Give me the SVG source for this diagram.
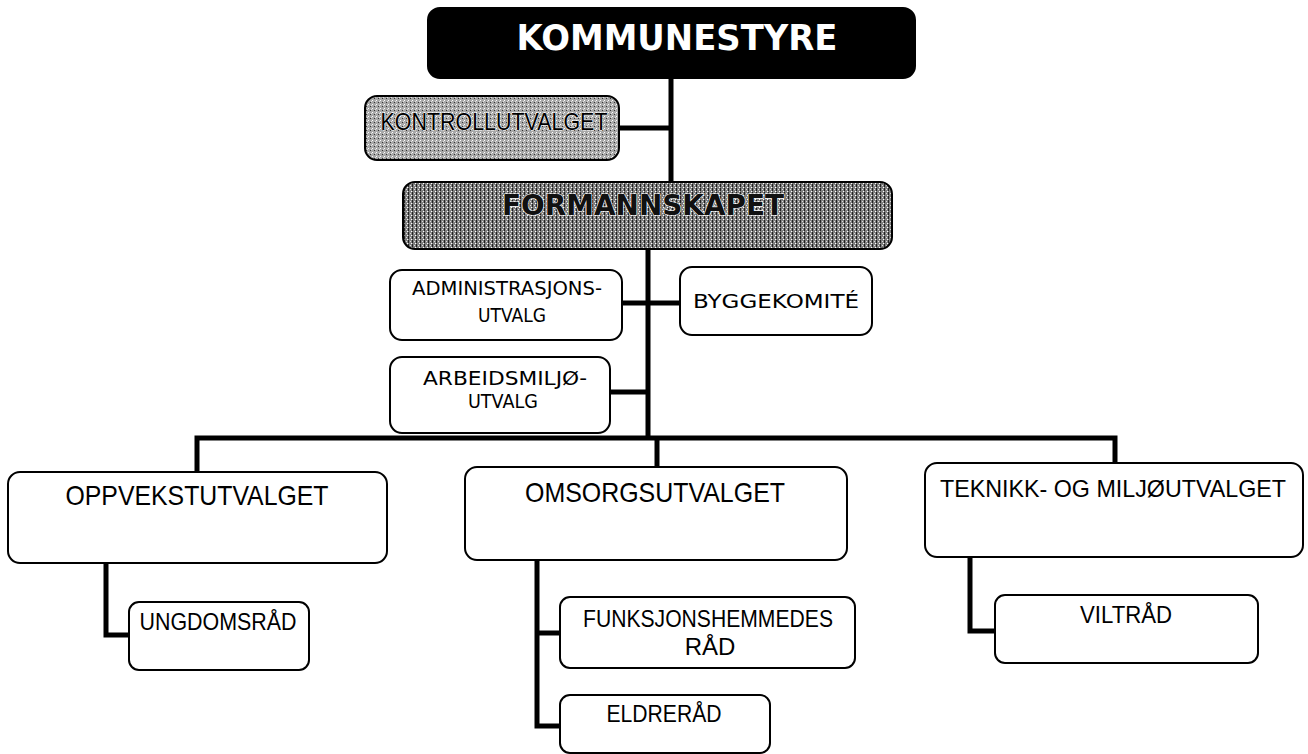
<svg xmlns="http://www.w3.org/2000/svg" width="1308" height="754" viewBox="0 0 1308 754">
<style>
.box{fill:#fff;stroke:#000;stroke-width:2}
.conn{fill:none;stroke:#000;stroke-width:5;stroke-linejoin:miter}
.small{font-family:"DejaVu Sans",Verdana,sans-serif;font-size:20px;fill:#000;text-anchor:middle}
.big{font-family:"Liberation Sans",Arial,sans-serif;font-size:28px;fill:#000;text-anchor:middle}
.mid{font-family:"Liberation Sans",Arial,sans-serif;font-size:24px;fill:#000;text-anchor:middle}
</style>
<defs>
<pattern id="lightTex" width="4" height="4" patternUnits="userSpaceOnUse">
<rect width="4" height="4" fill="#a8a8a8"/>
<rect x="0" y="0" width="1" height="1" fill="#fff"/>
<rect x="2" y="2" width="1" height="1" fill="#333"/>
<rect x="3" y="1" width="1" height="1" fill="#e0e0e0"/>
</pattern>
<pattern id="darkTex" width="4" height="4" patternUnits="userSpaceOnUse">
<rect width="4" height="4" fill="#808080"/>
<rect x="0" y="0" width="1" height="3" fill="#222"/>
<rect x="2" y="1" width="1" height="1" fill="#ddd"/>
<rect x="3" y="3" width="1" height="1" fill="#fff"/>
</pattern>
</defs>
<rect width="1308" height="754" fill="#fff"/>
<g id="connectors">
<line class="conn" x1="671" y1="78" x2="671" y2="183"/>
<line class="conn" x1="619" y1="128" x2="671" y2="128"/>
<line class="conn" x1="648" y1="249" x2="648" y2="438"/>
<line class="conn" x1="622" y1="303" x2="680" y2="303"/>
<line class="conn" x1="610" y1="392" x2="648" y2="392"/>
<polyline class="conn" points="197,472 197,438 1115,438 1115,465"/>
<line class="conn" x1="657" y1="438" x2="657" y2="467"/>
<polyline class="conn" points="106,563 106,635 130,635"/>
<polyline class="conn" points="537,560 537,726 561,726"/>
<line class="conn" x1="537" y1="633" x2="561" y2="633"/>
<polyline class="conn" points="970,557 970,631 996,631"/>
</g>
<g id="kommunestyre">
<rect x="428" y="8" width="487" height="70" rx="12" fill="#000" stroke="#000" stroke-width="2"/>
<text x="677" y="50" font-family="'DejaVu Sans',Verdana,sans-serif" font-weight="bold" font-size="35" fill="#fff" text-anchor="middle" textLength="321" lengthAdjust="spacingAndGlyphs">KOMMUNESTYRE</text>
</g>
<g id="kontrollutvalget">
<rect x="365" y="96" width="254" height="64" rx="12" fill="url(#lightTex)" stroke="#000" stroke-width="2"/>
<text x="494" y="130" font-family="'Liberation Sans',Arial,sans-serif" font-size="24" fill="#000" stroke="#fff" stroke-width="1" paint-order="stroke" text-anchor="middle" textLength="227" lengthAdjust="spacingAndGlyphs">KONTROLLUTVALGET</text>
</g>
<g id="formannskapet">
<rect x="403" y="182" width="489" height="67" rx="12" fill="url(#darkTex)" stroke="#000" stroke-width="2"/>
<text x="643" y="215" font-family="'DejaVu Sans',Verdana,sans-serif" font-weight="bold" font-size="29" fill="#111" stroke="#fff" stroke-width="1.2" paint-order="stroke" text-anchor="middle" textLength="282" lengthAdjust="spacingAndGlyphs">FORMANNSKAPET</text>
</g>
<g id="administrasjonsutvalg">
<rect class="box" x="390" y="270" width="232" height="70" rx="12"/>
<text class="small" x="507" y="295" textLength="190" lengthAdjust="spacingAndGlyphs">ADMINISTRASJONS-</text>
<text class="small" x="512" y="322" textLength="68" lengthAdjust="spacingAndGlyphs">UTVALG</text>
</g>
<g id="byggekomite">
<rect class="box" x="680" y="267" width="192" height="68" rx="12"/>
<text class="small" x="776" y="308" textLength="166" lengthAdjust="spacingAndGlyphs">BYGGEKOMITÉ</text>
</g>
<g id="arbeidsmiljoutvalg">
<rect class="box" x="390" y="357" width="220" height="76" rx="12"/>
<text class="small" x="505" y="385" textLength="164" lengthAdjust="spacingAndGlyphs">ARBEIDSMILJØ-</text>
<text class="small" x="503" y="408" textLength="70" lengthAdjust="spacingAndGlyphs">UTVALG</text>
</g>
<g id="oppvekstutvalget">
<rect class="box" x="8" y="472" width="379" height="91" rx="12"/>
<text class="big" x="197" y="505" textLength="263" lengthAdjust="spacingAndGlyphs">OPPVEKSTUTVALGET</text>
</g>
<g id="ungdomsrad">
<rect class="box" x="129" y="602" width="180" height="68" rx="10"/>
<text class="mid" x="218" y="630" textLength="157" lengthAdjust="spacingAndGlyphs">UNGDOMSRÅD</text>
</g>
<g id="omsorgsutvalget">
<rect class="box" x="465" y="467" width="382" height="93" rx="12"/>
<text class="big" x="655" y="502" textLength="260" lengthAdjust="spacingAndGlyphs">OMSORGSUTVALGET</text>
</g>
<g id="funksjonshemmedes">
<rect class="box" x="560" y="597" width="295" height="71" rx="10"/>
<text class="mid" x="708" y="627" textLength="250" lengthAdjust="spacingAndGlyphs">FUNKSJONSHEMMEDES</text>
<text class="mid" x="710" y="655">RÅD</text>
</g>
<g id="eldrerad">
<rect class="box" x="560" y="695" width="210" height="58" rx="10"/>
<text class="mid" x="664" y="722" textLength="115" lengthAdjust="spacingAndGlyphs">ELDRERÅD</text>
</g>
<g id="teknikkogmiljoutvalget">
<rect class="box" x="925" y="463" width="378" height="94" rx="12"/>
<text x="1113" y="497" font-family="'Liberation Sans',Arial,sans-serif" font-size="24" fill="#000" text-anchor="middle" textLength="346" lengthAdjust="spacingAndGlyphs">TEKNIKK- OG MILJØUTVALGET</text>
</g>
<g id="viltrad">
<rect class="box" x="995" y="595" width="263" height="68" rx="10"/>
<text class="mid" x="1126" y="623" textLength="92" lengthAdjust="spacingAndGlyphs">VILTRÅD</text>
</g>
</svg>
